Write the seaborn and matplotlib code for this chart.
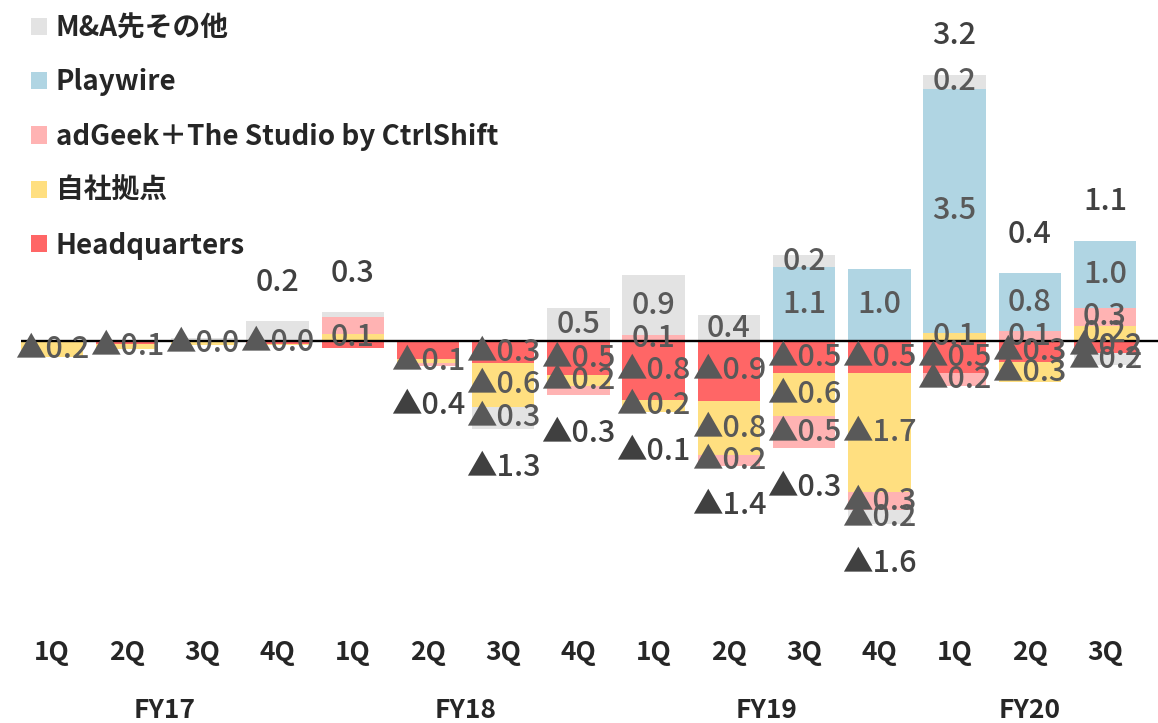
import numpy as np
import pandas as pd
import matplotlib
matplotlib.use("Agg")
import matplotlib.pyplot as plt
from matplotlib.patches import Patch
from matplotlib.transforms import blended_transform_factory
import seaborn as sns

# ---- data (億円) ----
quarters = ["1Q", "2Q", "3Q", "4Q", "1Q", "2Q", "3Q", "4Q",
            "1Q", "2Q", "3Q", "4Q", "1Q", "2Q", "3Q"]
fiscal_years = ["FY17", "FY18", "FY19", "FY20"]
year_of_bar = ["FY17"] * 4 + ["FY18"] * 4 + ["FY19"] * 4 + ["FY20"] * 3

series_names = ["Headquarters", "自社拠点", "adGeek＋The Studio by CtrlShift",
                "Playwire", "M&A先その他"]

headquarters = [-0.02, -0.04, -0.02, -0.04, -0.10, -0.26, -0.32, -0.49,
                -0.84, -0.86, -0.46, -0.46, -0.46, -0.30, -0.17]
own_sites = [-0.21, -0.08, -0.04, -0.02, 0.10, -0.06, -0.62, -0.16,
             -0.18, -0.78, -0.62, -1.71, 0.12, -0.29, 0.21]
adgeek = [0.00, 0.00, 0.00, 0.00, 0.25, -0.04, 0.00, -0.12,
          0.08, -0.16, -0.46, -0.26, -0.19, 0.14, 0.27]
playwire = [0.00, 0.00, 0.00, 0.00, 0.00, 0.00, 0.00, 0.00,
            0.00, 0.00, 1.06, 1.04, 3.50, 0.83, 0.96]
ma_other = [0.00, 0.00, 0.05, 0.28, 0.06, 0.00, -0.32, 0.47,
            0.86, 0.37, 0.17, -0.20, 0.20, 0.00, -0.18]

# which segments carry a value label
hq_labeled = [0, 0, 0, 1, 0, 0, 1, 1, 1, 1, 1, 1, 1, 1, 1]
own_labeled = [1, 1, 1, 0, 1, 1, 1, 1, 1, 1, 1, 1, 1, 1, 1]
adgeek_labeled = [0, 0, 0, 0, 0, 0, 0, 0, 1, 1, 1, 1, 1, 1, 1]
playwire_labeled = [0, 0, 0, 0, 0, 0, 0, 0, 0, 0, 1, 1, 1, 1, 1]
ma_labeled = [0, 0, 0, 0, 0, 0, 1, 1, 1, 1, 1, 1, 1, 0, 1]
total_labeled = [0, 0, 0, 1, 1, 1, 1, 1, 1, 1, 1, 1, 1, 1, 1]

colors = ["#FF6666", "#FFDF80", "#FFB3B3", "#B0D5E3", "#E3E3E3"]

values = [headquarters, own_sites, adgeek, playwire, ma_other]
label_masks = [hq_labeled, own_labeled, adgeek_labeled, playwire_labeled, ma_labeled]

# ---- layout ----
W, H, DPI = 1158, 723, 100
px_per_unit = 69.7
zero_px = 341
bar_step_px = 75.21
first_center_px = 52
axes_bottom_px = 625
bar_width = 0.83

sns.set_style("white")
plt.rcParams["font.family"] = ["Noto Sans CJK JP", "DejaVu Sans"]

fig = plt.figure(figsize=(W / DPI, H / DPI), dpi=DPI)
left_px = first_center_px - bar_width / 2 * bar_step_px
ax = fig.add_axes([left_px / W, (H - axes_bottom_px) / H,
                   (W - left_px) / W, axes_bottom_px / H])

n = len(quarters)
periods = [f"{y} {q}" for y, q in zip(year_of_bar, quarters)]

pos_base = np.zeros(n)
neg_base = np.zeros(n)
bottoms = []
for vals in values:
    v = np.array(vals)
    b = np.where(v >= 0, pos_base, neg_base)
    bottoms.append(b)
    pos_base = pos_base + np.where(v >= 0, v, 0)
    neg_base = neg_base + np.where(v < 0, v, 0)

for name, vals, b, c in zip(series_names, values, bottoms, colors):
    df = pd.DataFrame({"period": periods, "value": vals})
    sns.barplot(data=df, x="period", y="value", order=periods, bottom=b,
                width=bar_width, color=c, saturation=1, linewidth=0,
                errorbar=None, ax=ax, zorder=2)

ax.axhline(0, color="black", lw=1.7, zorder=3)


def fmt(v):
    return f"▲{abs(v):.1f}" if v < 0 else f"{v:.1f}"


label_size = 22
for vals, b, mask in zip(values, bottoms, label_masks):
    for i in range(n):
        if mask[i]:
            ax.text(i, b[i] + vals[i] / 2, fmt(vals[i]), ha="center",
                    va="center", fontsize=label_size, fontweight="medium",
                    color="#595959", zorder=4)

totals = np.sum(np.array(values), axis=0)
gap = 0.56
for i in range(n):
    if total_labeled[i]:
        y = pos_base[i] + gap if totals[i] >= 0 else neg_base[i] - gap
        ax.text(i, y, fmt(totals[i]), ha="center", va="center",
                fontsize=label_size, fontweight="medium",
                color="#404040", zorder=4)

ax.set_xlim(-bar_width / 2, -bar_width / 2 + (W - left_px) / bar_step_px)
ax.set_ylim(-(axes_bottom_px - zero_px) / px_per_unit, zero_px / px_per_unit)
ax.set_xticks(range(n), quarters)
ax.tick_params(axis="x", length=0, pad=10, labelsize=19)
for t in ax.get_xticklabels():
    t.set_fontweight("bold")
ax.set_yticks([])
ax.set_xlabel("")
ax.set_ylabel("")
for s in ax.spines.values():
    s.set_visible(False)

trans = blended_transform_factory(ax.transData, fig.transFigure)
for fy in fiscal_years:
    idx = [i for i, y in enumerate(year_of_bar) if y == fy]
    ax.text(np.mean(idx), (H - 711) / H, fy, transform=trans, ha="center",
            va="center", fontsize=19, fontweight="bold")

handles = [Patch(facecolor=c, edgecolor="none") for c in colors][::-1]
fig.legend(handles, series_names[::-1], loc="upper left",
           bbox_to_anchor=(31 / W, 1 - 14 / H), frameon=False,
           prop={"family": ["Noto Sans CJK JP", "DejaVu Sans"],
                 "weight": "bold", "size": 20},
           handlelength=0.58, handleheight=0.58, handletextpad=0.32,
           labelspacing=0.95, borderaxespad=0, borderpad=0)

fig.savefig("out.png", dpi=DPI)
